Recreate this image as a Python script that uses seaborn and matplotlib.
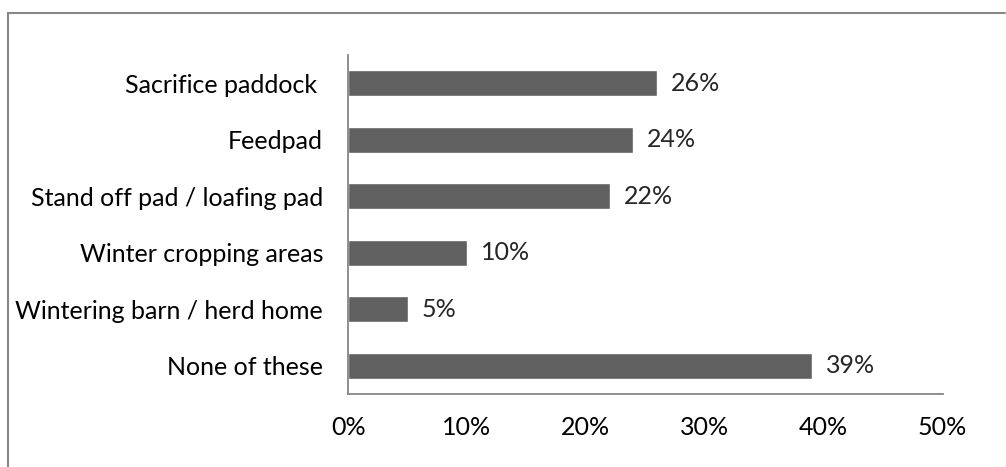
import matplotlib
matplotlib.use("Agg")
import matplotlib.pyplot as plt
from matplotlib.lines import Line2D
from matplotlib.ticker import PercentFormatter
import seaborn as sns
import pandas as pd

# data
categories = ["Sacrifice paddock ", "Feedpad", "Stand off pad / loafing pad",
              "Winter cropping areas", "Wintering barn / herd home", "None of these"]
shares = [26, 24, 22, 10, 5, 39]
x_ticks = [0, 10, 20, 30, 40, 50]

df = pd.DataFrame({"category": categories, "share": shares})

sns.set_style("white")
plt.rcParams["font.family"] = ["Lato", "DejaVu Sans"]

fig = plt.figure(figsize=(10.06, 4.67), dpi=100)
ax = fig.add_axes([0.346, 0.156, 0.591, 0.726])

sns.barplot(data=df, x="share", y="category", orient="h", color="#606060",
            saturation=1, width=0.46, ax=ax)

for c in ax.containers:
    ax.bar_label(c, labels=[f"{v:.0f}%" for v in c.datavalues], padding=10, fontsize=18)

ax.set_xlim(0, 50)
ax.set_xticks(x_ticks)
ax.xaxis.set_major_formatter(PercentFormatter(decimals=0))
ax.set_xlabel("")
ax.set_ylabel("")
ax.tick_params(axis="both", length=0, labelsize=18, colors="black")
ax.tick_params(axis="x", pad=16)
ax.tick_params(axis="y", pad=18)

for side in ["top", "right"]:
    ax.spines[side].set_visible(False)
for side in ["left", "bottom"]:
    ax.spines[side].set_color("#868686")
    ax.spines[side].set_linewidth(1.3)

# chart area border (left and top visible)
fig.add_artist(Line2D([0.008, 0.008], [0.0, 0.972], color="#878787", lw=1.5))
fig.add_artist(Line2D([0.008, 0.999], [0.972, 0.972], color="#878787", lw=1.5))

fig.savefig("out.png", dpi=100, facecolor="white")
